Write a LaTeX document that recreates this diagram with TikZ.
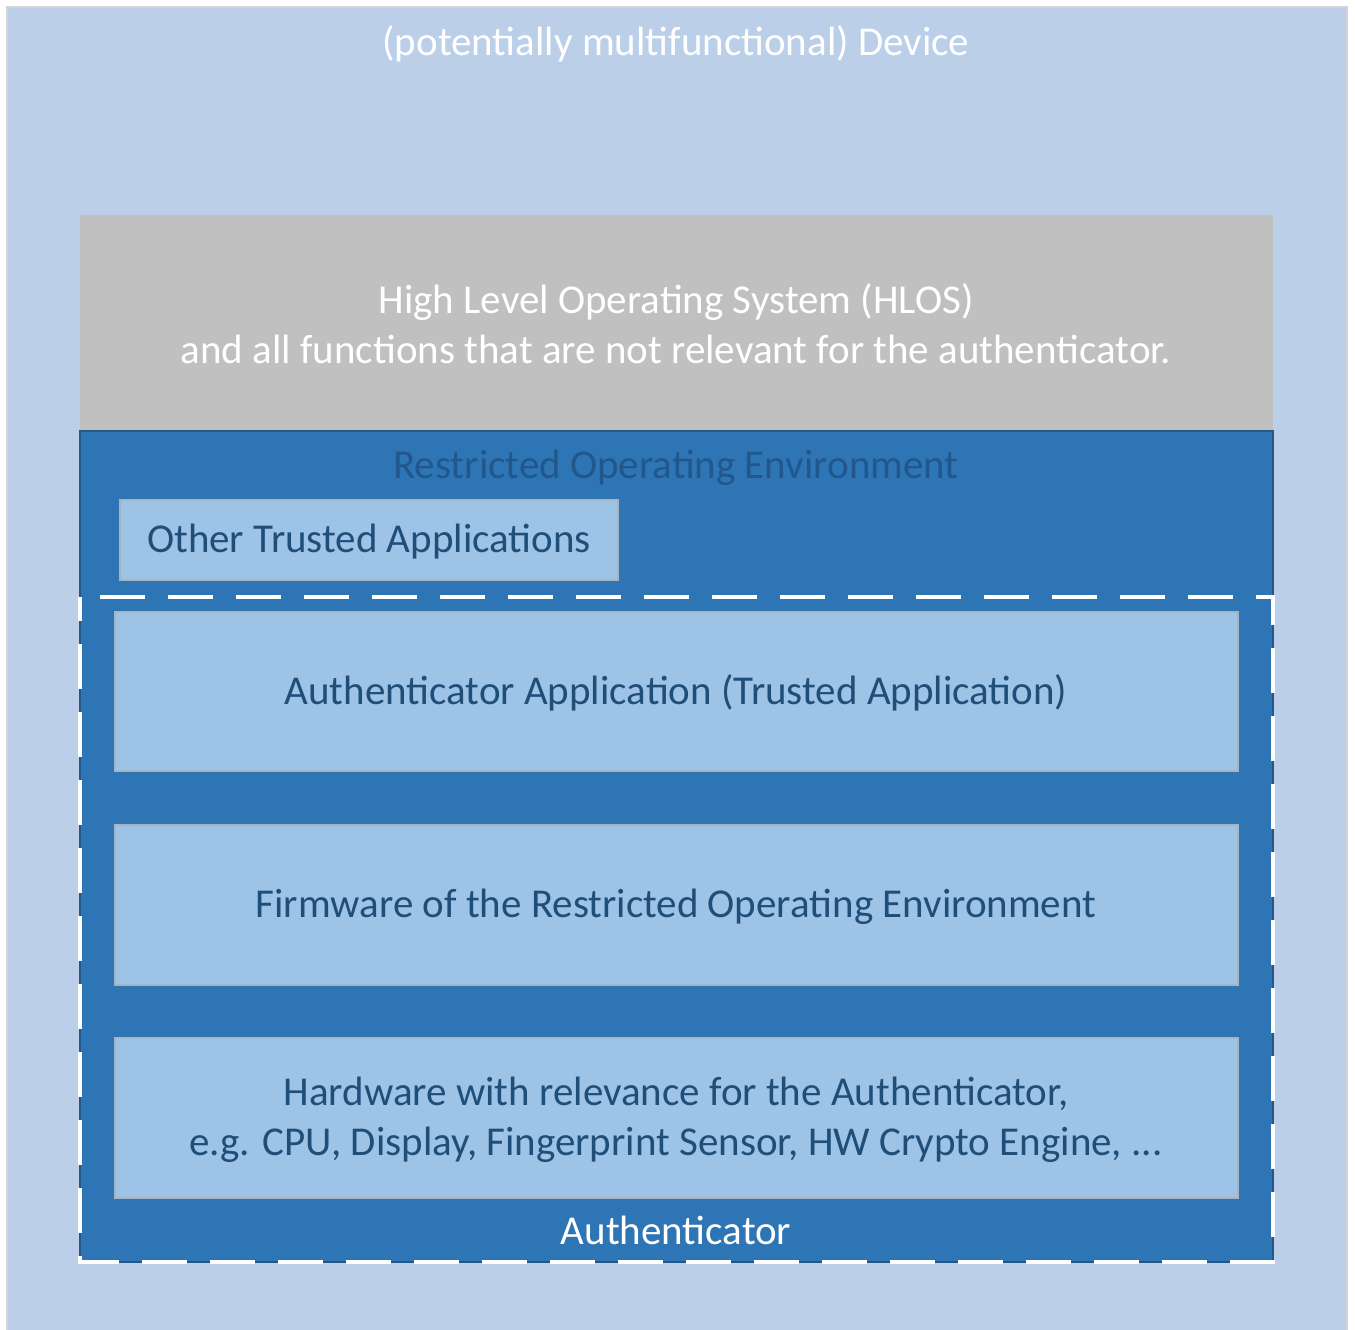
\documentclass[tikz,border=0pt]{standalone}
\usepackage{fontspec}
\setmainfont{Carlito}
\definecolor{devfill}{HTML}{BBCFE8}
\definecolor{devline}{HTML}{D4D4D4}
\definecolor{hlos}{HTML}{C0C0C0}
\definecolor{roe}{HTML}{2E75B6}
\definecolor{roeline}{HTML}{25588A}
\definecolor{roetext}{HTML}{22578C}
\definecolor{inner}{HTML}{9DC3E6}
\definecolor{innerline}{HTML}{A9B4C0}
\definecolor{darktext}{HTML}{1F4E79}
\tikzset{
  bigtext/.style={font=\fontsize{41}{50}\selectfont, align=center, inner sep=0pt},
  innerbox/.style={fill=inner, draw=innerline, line width=1.2pt},
}
\begin{document}
\begin{tikzpicture}[x=1pt,y=-1pt]
\useasboundingbox (0,0) rectangle (1355,1330);
\fill[white] (0,0) rectangle (1355,1330);
% device
\draw[fill=devfill, draw=devline, line width=2pt] (7,7) rectangle (1347,1334);
\node[bigtext, text=white] (devtitle) at (676,44) {(potentially multifunctional) Device};
% HLOS
\fill[hlos] (80,215) rectangle (1273,431);
\node[bigtext, text=white] (hlostext) at (676,324) {High Level Operating System (HLOS)\\and all functions that are not relevant for the authenticator.};
% ROE
\draw[fill=roe, draw=roeline, line width=2.5pt] (80,431) rectangle (1273,1262);
\node[bigtext, text=roetext] (roetitle) at (676,468) {Restricted Operating Environment};
\draw[innerbox] (120,500) rectangle (618,580);
\node[bigtext, text=darktext] (ota) at (369,542) {Other Trusted Applications};
% Authenticator dashed
\draw[white, line width=3.5pt, dash pattern=on 45pt off 23pt, dash phase=-20pt] (80,597) -- (1273,597) -- (1273,1262) -- (80,1262) -- cycle;
\draw[innerbox] (115,612) rectangle (1238,771);
\node[bigtext, text=darktext] (authapp) at (676,693) {Authenticator Application (Trusted Application)};
\draw[innerbox] (115,825) rectangle (1238,985);
\node[bigtext, text=darktext] (fw) at (676,907) {Firmware of the Restricted Operating Environment};
\draw[innerbox] (115,1038) rectangle (1238,1198);
\node[bigtext, text=darktext] (hw) at (676,1120) {Hardware with relevance for the Authenticator,\\e.g. CPU, Display, Fingerprint Sensor, HW Crypto Engine, ...};
\node[bigtext, text=white] (authlabel) at (676,1230) {Authenticator};
\end{tikzpicture}
\end{document}
